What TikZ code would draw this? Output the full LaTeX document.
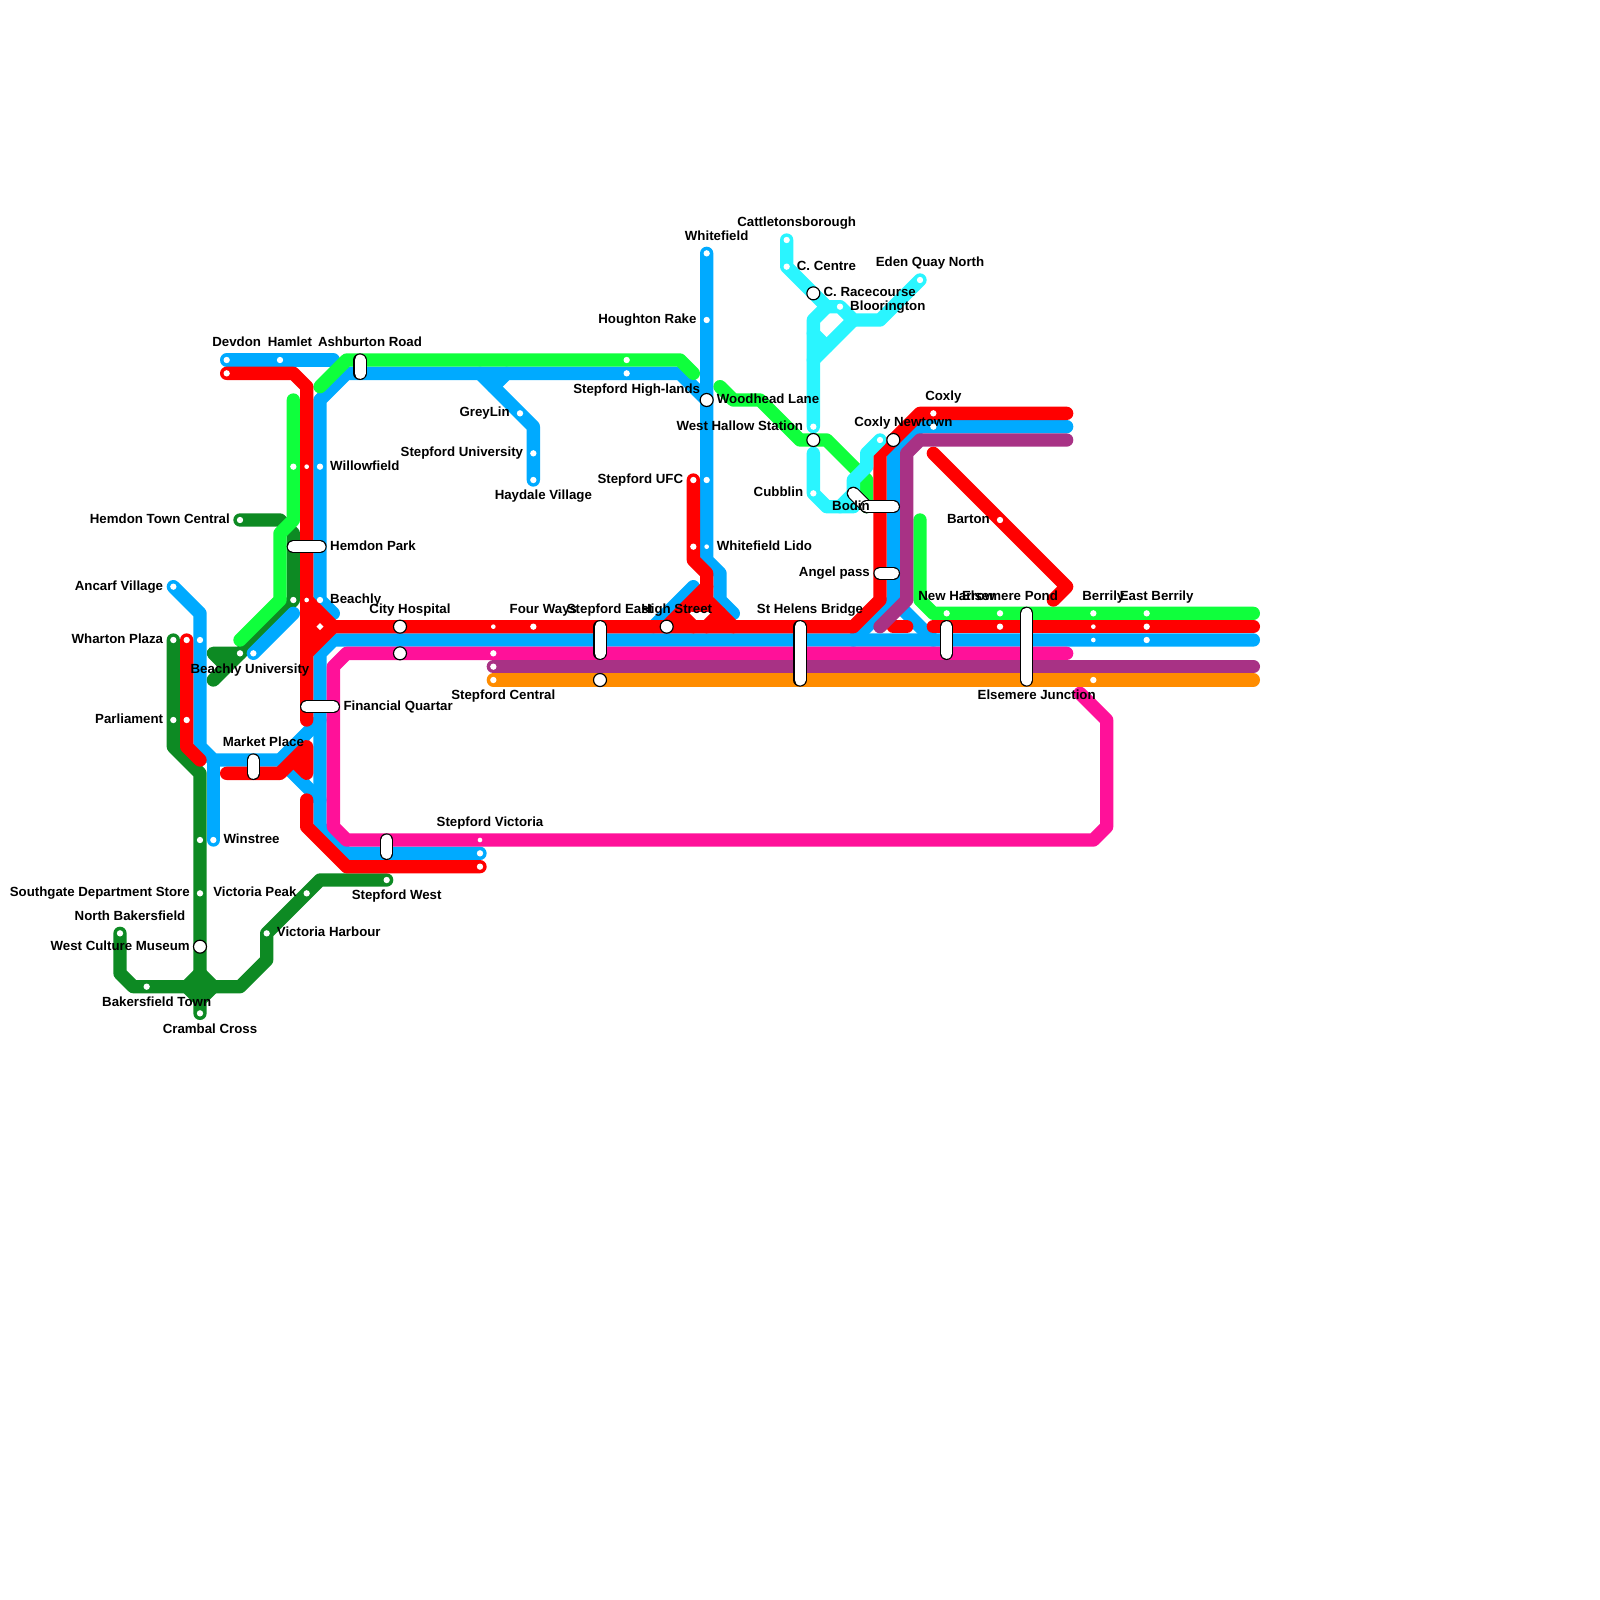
\documentclass[tikz,border=0pt]{standalone}
\usepackage{xcolor}
\usepackage{fontspec}
\setmainfont{Liberation Sans}
\usetikzlibrary{positioning, shapes.geometric, backgrounds}
\pgfdeclarelayer{dots}
\pgfsetlayers{background,main,dots}

\definecolor{lineblue}{HTML}{00AAFF}
\definecolor{linered}{HTML}{FF0000}
\definecolor{linegreen}{HTML}{0FFF3C}
\definecolor{linedark}{HTML}{0D8A23}
\definecolor{linepink}{HTML}{FF1199}
\definecolor{linepurple}{HTML}{A83285}
\definecolor{lineorange}{HTML}{FF8C00}
\definecolor{linecyan}{HTML}{2AF5FF}

\begin{document}
\begin{tikzpicture}[
    x=4mm,
    y=-4mm,
    route/.style={
      line width=4mm,
      line cap=round,
      line join=round
    },
    stopdot/.style={
      circle,
      fill=white,
      inner sep=0pt,
      minimum size=1.9mm
    },
    stopsmall/.style={
      stopdot,
      minimum size=1.4mm
    },
    hubdot/.style={
      diamond,
      fill=white,
      inner sep=0pt,
      minimum size=2.2mm
    },
    change/.style={
      circle,
      draw=black,
      line width=.35mm,
      fill=white,
      inner sep=0pt,
      minimum size=3.9mm
    },
    pill/.style={
      line width=.35mm,
      draw=black,
      double=white,
      double distance=3.3mm,
      line cap=round
    },
    lbl/.style={
      font=\fontsize{11.33}{13}\selectfont\bfseries,
      inner sep=0pt,
      text height=8.2pt,
      text depth=2.4pt
    }
  ]
    \useasboundingbox (0,0) rectangle (120,120);

    % Stations
    \begin{pgfonlayer}{dots}
      \foreach \name/\pos in {devdon/{17,27}, hamlet/{21,27}, devdonR/{17,28}, willowG/{22,35},
          willowfield/{24,35}, hemdontown/{18,39}, beachlyG/{22,45}, beachly/{24,45},
          ancarf/{13,44}, wharton/{13,48}, whartonR/{14,48}, whartonB/{15,48},
          parliament/{13,54}, parliamentR/{14,54}, beachlyuni/{18,49}, beachlyuniB/{19,49},
          winstree/{16,63}, winstreeG/{15,63}, southgate/{15,67}, victoriapeak/{23,67},
          victoriaharbour/{20,70}, northbakers/{9,70}, bakersfield/{11,74}, crambal/{15,76},
          stepfordwest/{29,66}, victoriaB/{36,64}, victoriaR/{36,65}, greylin/{39,31},
          stepuni/{40,34}, haydale/{40,36}, highlandsG/{47,27}, highlands/{47,28},
          houghton/{53,24}, whitefield/{53,19}, ufcB/{53,36}, ufc/{52,36}, lidoR/{52,41},
          cattleton/{59,18}, ccentre/{59,20}, bloorington/{63,23}, eden/{69,21},
          westhallow/{61,32}, cubblin/{61,37}, newtownC/{66,33}, coxly/{70,31}, coxlyB/{70,32},
          barton/{75,39}, fourways/{40,47}, centralP/{37,49}, central/{37,51}, centralU/{37,50},
          harrow/{71,46}, pond/{75,46}, pondR/{75,47}, berrily/{82,46}, eastberrily/{86,46},
          eastR/{86,47}, eastB/{86,48}, berrilyO/{82,51}} {
        \node[stopdot] (\name) at (\pos) {};
      }
      \foreach \name/\pos in {willowR/{23,35}, beachlyR/{23,45}, centralR/{37,47}, berrilyR/{82,47},
          berrilyB/{82,48}, lido/{53,41}, victoria/{36,63}} {
        \node[stopsmall] (\name) at (\pos) {};
      }
      \node[hubdot] (hub) at (24,47) {};

      % Interchanges
      \foreach \name/\pos in {westculture/{15,71}, cityhosp/{30,47}, cityhospP/{30,49}, stepeastO/{45,51},
          highstreet/{50,47}, woodhead/{53,30}, racecourse/{61,22}, hallowG/{61,33}, newtown/{67,33}} {
        \node[change] (\name) at (\pos) {};
      }
    \end{pgfonlayer}

    % Lines
    \begin{scope}[on background layer]
      \draw[route, linedark] (hemdontown.center) -- (21,39) -- (22,40) -- (22,45) -- (18,49) -- (16,49) -- (17,50);
      \draw[route, linedark] (18,49) -- (16,51);
      \draw[route, linedark] (wharton.center) -- (13,56) -- (15,58) -- (crambal.center);
      \draw[route, linedark] (15,73) -- (14,74) -- (15,75) -- (16,74) -- cycle;
      \draw[route, linedark] (northbakers.center) -- (9,73) -- (10,74) -- (18,74) -- (20,72) -- (20,70) -- (24,66) -- (stepfordwest.center);

      \draw[route, lineblue] (devdon.center) -- (25,27);
      \draw[route, lineblue] (25,46) -- (beachly.center) -- (24,30) -- (26,28) -- (51,28) -- (woodhead.center);
      \draw[route, lineblue] (whitefield.center) -- (53,42) -- (54,43) -- (54,45) -- (55,46);
      \draw[route, lineblue] (36,28) -- (40,32) -- (haydale.center);
      \draw[route, lineblue] (38,28) -- (37,29);
      \draw[route, lineblue] (ancarf.center) -- (15,46) -- (15,56) -- (16,57) -- (21,57) -- (24,54);
      \draw[route, lineblue] (16,57) -- (winstree.center);
      \draw[route, lineblue] (21,57) -- (24,60);
      \draw[route, lineblue] (beachlyuniB.center) -- (22,46);
      \draw[route, lineblue] (victoriaB.center) -- (26,64) -- (24,62) -- (24,49) -- (25,48) -- (94,48);
      \draw[route, lineblue] (52,44) -- (49,47);
      \draw[route, lineblue] (64,48) -- (67,45) -- (67,34) -- (69,32) -- (80,32);
      \draw[route, lineblue] (67,45) -- (70,48);

      \draw[route, linegreen] (22,30) -- (22,39) -- (21,40) -- (21,45) -- (18,48);
      \draw[route, linegreen] (24,29) -- (26,27) -- (51,27) -- (52,28);
      \draw[route, linegreen] (54,29) -- (55,30) -- (57,30) -- (60,33) -- (62,33) -- (65,36) -- (65,38);
      \draw[route, linegreen] (69,39) -- (69,45) -- (70,46) -- (94,46);

      \draw[route, linepink] (80,49) -- (26,49) -- (25,50) -- (25,62) -- (26,63) -- (82,63) -- (83,62) -- (83,54) -- (81,52);

      \draw[route, linered] (devdonR.center) -- (22,28) -- (23,29) -- (23,54);
      \draw[route, linered, fill=linered] (23,45) -- (25,47) -- (23,49) -- cycle;
      \draw[route, linered] (25,47) -- (64,47) -- (66,45) -- (66,34) -- (69,31) -- (80,31);
      \draw[route, linered] (whartonR.center) -- (14,56) -- (15,57);
      \draw[route, linered] (17,58) -- (21,58) -- (23,56) -- (23,58) -- (22,57);
      \draw[route, linered] (23,60) -- (23,62) -- (26,65) -- (victoriaR.center);
      \draw[route, linered] (ufc.center) -- (52,42) -- (53,43) -- (53,45) -- (55,47);
      \draw[route, linered] (53,44) -- (highstreet.center);
      \draw[route, linered] (52,45.4) -- (53,45.4);
      \draw[route, linered] (51,46) -- (52,47);
      \draw[route, linered] (54,46) -- (53,47);
      \draw[route, linered] (67,47) -- (68,47);
      \draw[route, linered] (70,47) -- (94,47);
      \draw[route, linered] (70,34) -- (80,44) -- (79,45);

      \draw[route, linepurple] (80,33) -- (69,33) -- (68,34) -- (68,45) -- (66,47);
      \draw[route, linepurple] (centralU.center) -- (94,50);
      \draw[route, lineorange] (central.center) -- (94,51);

      \draw[route, linecyan] (cattleton.center) -- (ccentre.center) -- (62,23) -- (63,23) -- (64,24) -- (66,24) -- (eden.center);
      \draw[route, linecyan] (62,23) -- (61,24) -- (westhallow.center);
      \draw[route, linecyan] (61,27) -- (64,24);
      \draw[route, linecyan] (61,25) -- (62,26);
      \draw[route, linecyan] (61,34) -- (cubblin.center) -- (62,38) -- (64,38) -- (64,36) -- (65,35) -- (65,34) -- (newtownC.center);
      \draw[route, linecyan] (63,38) -- (64,37);
    \end{scope}

    % Long stations
    \foreach \name/\a/\b in {ashburton/{27,27}/{27,28}, hemdonpark/{22,41}/{24,41}, financial/{23,53}/{25,53},
        marketplace/{19,57}/{19,58}, victoriapill/{29,63}/{29,64}, stepeast/{45,47}/{45,49},
        sthelens/{60,47}/{60,51}, newharrow/{71,47}/{71,49}, elsemere/{77,46}/{77,51},
        bodinup/{64,37}/{65,38}, bodin/{65,38}/{67,38}, angel/{66,43}/{67,43}} {
      \coordinate (\name A) at (\a);
      \coordinate (\name B) at (\b);
      \draw[pill] (\name A) -- (\name B);
    }
    \coordinate (bodinmid) at (66,38);

    % Labels
    \foreach \stn/\txt in {willowfield/Willowfield, hemdonparkB/Hemdon Park, beachly/Beachly,
        financialB/Financial Quartar, winstree/Winstree, victoriaharbour/Victoria Harbour,
        woodhead/Woodhead Lane, lido/Whitefield Lido, ccentre/C. Centre,
        racecourse/C. Racecourse, bloorington/Bloorington} {
      \node[lbl, right=3mm of \stn.center] (\stn-lab) {\txt};
    }
    \foreach \stn/\txt in {hemdontown/Hemdon Town Central, ancarf/Ancarf Village, wharton/Wharton Plaza,
        parliament/Parliament, southgate/Southgate Department Store, victoriapeak/Victoria Peak,
        westculture/West Culture Museum, greylin/GreyLin, stepuni/Stepford University,
        houghton/Houghton Rake, ufc/Stepford UFC, westhallow/West Hallow Station,
        cubblin/Cubblin, bodinmid/Bodin, angelA/Angel pass, barton/Barton} {
      \node[lbl, left=3mm of \stn.center] (\stn-lab) {\txt};
    }
    \foreach \stn/\txt in {devdon/Devdon, hamlet/Hamlet, ashburtonA/Ashburton Road, marketplaceA/Market Place,
        northbakers/North Bakersfield, victoria/Stepford Victoria, cityhosp/City Hospital,
        fourways/Four Ways, stepeastA/Stepford East, highstreet/High Street, sthelensA/St Helens Bridge,
        whitefield/Whitefield, cattleton/Cattletonsborough, eden/Eden Quay North, newtown/Coxly Newtown,
        coxly/Coxly, harrow/New Harrow, pond/Elsemere Pond, berrily/Berrily, eastberrily/East Berrily} {
      \node[lbl, above=3mm of \stn.center, xshift=3mm] (\stn-lab) {\txt};
    }
    \foreach \stn/\txt in {beachlyuni/Beachly University, bakersfield/Bakersfield Town, crambal/Crambal Cross,
        stepfordwest/Stepford West, central/Stepford Central, highlands/Stepford High-lands,
        haydale/Haydale Village, elsemereB/Elsemere Junction} {
      \node[lbl, below=3mm of \stn.center, xshift=3mm] (\stn-lab) {\txt};
    }
  \end{tikzpicture}
\end{document}
